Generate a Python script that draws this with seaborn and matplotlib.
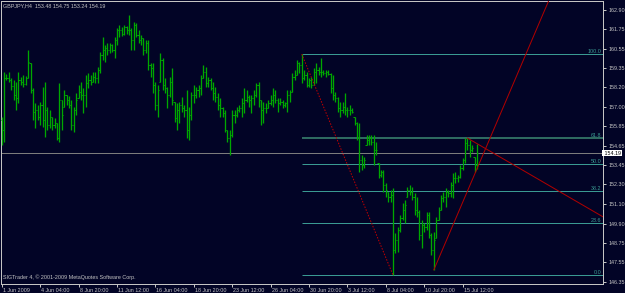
import numpy as np
import pandas as pd
import matplotlib
matplotlib.use("Agg")
import matplotlib.pyplot as plt
import matplotlib.transforms as mtransforms
import seaborn as sns

# ---------------- data (GBPJPY H4) ----------------
highs = [
    156.39, 159.13, 159.01, 159.13, 158.76, 158.64, 158.52, 159.13, 158.82, 158.94,
    158.88, 160.47, 159.68, 158.15, 157.24, 157.12, 157.30, 158.21, 158.52, 157.00,
    156.82, 156.39, 156.33, 156.02, 158.46, 157.42, 158.03, 157.73, 157.67, 157.42,
    157.00, 157.85, 158.34, 158.52, 158.15, 158.94, 159.07, 158.94, 159.13, 159.13,
    159.43, 160.34, 161.26, 160.77, 160.89, 160.89, 160.83, 161.26, 161.80, 161.99,
    161.87, 161.99, 161.93, 162.60, 161.80, 162.17, 162.11, 161.68, 161.38, 161.20,
    161.07, 161.07, 159.68, 159.68, 158.52, 158.34, 160.28, 159.98, 158.76, 158.21,
    158.82, 159.37, 157.30, 157.24, 157.30, 157.61, 157.12, 158.03, 157.00, 157.91,
    158.34, 158.21, 158.34, 158.94, 159.55, 159.43, 158.82, 158.76, 158.52, 158.21,
    157.85, 157.55, 157.00, 156.82, 155.60, 155.60, 156.82, 156.82, 157.00, 157.12,
    157.55, 158.15, 158.03, 157.73, 157.73, 158.03, 158.46, 158.52, 157.42, 157.30,
    157.24, 157.42, 157.73, 158.15, 158.03, 157.55, 157.55, 157.42, 157.30, 158.03,
    158.03, 159.07, 159.25, 159.86, 159.74, 160.22, 159.25, 159.13, 158.76, 158.82,
    159.37, 159.68, 159.43, 159.98, 159.25, 159.25, 159.25, 159.07, 158.94, 157.91,
    157.61, 157.30, 157.30, 157.85, 157.00, 157.12, 156.94, 156.39, 156.08, 156.02,
    154.08, 153.96, 155.29, 155.29, 155.29, 155.29, 154.87, 153.59, 153.16, 153.16,
    152.37, 151.83, 151.95, 152.07, 149.33, 149.70, 150.43, 151.16, 151.34, 152.13,
    152.25, 152.13, 151.77, 151.52, 150.73, 150.12, 149.94, 150.61, 150.61, 149.33,
    149.39, 150.31, 150.91, 151.64, 151.83, 152.07, 151.95, 152.43, 152.98, 153.04,
    152.86, 153.47, 153.89, 155.11, 155.11, 154.99, 154.69, 153.96, 154.75,
]
lows = [
    154.69, 154.87, 158.64, 158.52, 158.03, 157.42, 156.82, 157.24, 158.34, 158.21,
    158.34, 158.76, 157.85, 156.21, 155.72, 156.21, 155.90, 155.78, 155.17, 155.60,
    155.72, 155.60, 155.72, 154.99, 154.87, 155.60, 157.00, 157.12, 156.94, 155.60,
    155.48, 156.51, 157.55, 157.42, 156.63, 157.00, 158.15, 158.34, 158.52, 158.46,
    158.46, 159.07, 159.86, 159.74, 160.16, 160.28, 160.34, 159.98, 160.77, 161.26,
    161.32, 161.38, 161.44, 161.38, 160.47, 160.47, 161.26, 160.89, 160.77, 160.16,
    160.28, 159.25, 158.82, 157.85, 156.82, 156.39, 158.52, 158.03, 157.85, 156.94,
    157.61, 157.12, 156.08, 155.60, 156.02, 156.69, 156.39, 155.11, 154.99, 156.21,
    157.24, 157.55, 157.61, 157.73, 158.76, 158.21, 158.21, 158.03, 157.42, 157.30,
    156.82, 156.39, 156.39, 155.48, 154.87, 154.08, 155.17, 156.02, 156.39, 156.69,
    156.39, 156.63, 157.30, 157.00, 156.63, 157.12, 157.61, 157.00, 155.90, 156.02,
    156.63, 156.94, 157.12, 157.00, 157.24, 156.69, 157.12, 156.94, 157.00, 156.69,
    157.30, 157.91, 158.64, 158.94, 159.07, 158.46, 158.64, 158.21, 158.21, 158.15,
    158.34, 158.46, 158.94, 158.82, 158.94, 158.82, 158.94, 157.85, 157.42, 157.30,
    156.69, 156.39, 156.63, 156.51, 156.39, 156.51, 156.63, 155.90, 154.99, 153.04,
    153.16, 153.29, 154.69, 154.69, 154.69, 153.47, 154.08, 152.68, 152.74, 151.83,
    151.52, 151.22, 151.22, 146.78, 148.11, 148.17, 149.39, 150.12, 149.94, 151.52,
    151.64, 151.34, 150.43, 150.31, 148.91, 148.42, 149.39, 149.51, 149.03, 147.99,
    147.08, 149.03, 150.12, 150.73, 151.22, 150.91, 151.52, 151.52, 151.46, 152.37,
    152.43, 152.68, 153.16, 153.59, 154.38, 153.96, 154.26, 153.04, 153.24,
]
closes = [
    155.60, 158.76, 158.76, 158.64, 158.28, 157.73, 157.55, 158.64, 158.52, 158.40,
    158.76, 159.74, 158.03, 156.69, 156.82, 156.39, 157.12, 156.21, 156.82, 155.90,
    156.39, 155.90, 156.02, 155.11, 157.42, 156.51, 157.73, 157.42, 157.12, 155.90,
    156.82, 157.42, 157.91, 157.73, 157.73, 158.46, 158.64, 158.52, 158.82, 158.76,
    159.25, 160.16, 160.47, 160.59, 160.47, 160.77, 160.47, 161.07, 161.68, 161.68,
    161.44, 161.87, 161.68, 161.68, 161.07, 161.99, 161.38, 161.07, 161.20, 160.47,
    160.89, 159.55, 159.37, 158.34, 157.12, 158.03, 159.86, 158.34, 158.15, 157.73,
    158.52, 157.42, 156.33, 156.82, 157.12, 156.94, 156.82, 155.60, 156.51, 157.73,
    157.73, 158.03, 158.15, 158.76, 159.13, 158.46, 158.64, 158.15, 157.85, 157.61,
    157.12, 156.94, 156.63, 155.60, 155.11, 155.29, 156.51, 156.51, 156.82, 156.94,
    157.24, 157.42, 157.61, 157.42, 157.55, 157.73, 158.34, 157.42, 156.82, 156.94,
    156.94, 157.24, 157.42, 157.73, 157.42, 157.24, 157.30, 157.12, 157.24, 157.73,
    157.91, 158.82, 158.94, 159.68, 159.55, 158.76, 158.94, 158.34, 158.64, 158.34,
    159.13, 159.25, 159.13, 159.13, 159.07, 159.13, 159.01, 158.15, 157.73, 157.55,
    156.94, 156.82, 157.00, 156.82, 156.82, 156.82, 156.69, 156.02, 155.17, 153.77,
    153.47, 153.77, 154.99, 155.11, 154.87, 154.38, 154.38, 152.86, 153.04, 152.25,
    151.95, 151.52, 151.64, 148.30, 148.91, 149.51, 150.24, 150.73, 151.03, 151.95,
    151.83, 151.52, 150.73, 150.61, 149.21, 149.82, 149.70, 150.43, 149.21, 148.30,
    148.91, 150.12, 150.73, 151.46, 151.52, 151.83, 151.77, 152.25, 152.68, 152.68,
    152.74, 153.29, 153.77, 154.81, 154.69, 154.38, 154.50, 153.48, 154.19,
]
opens = [
    156.20, 155.60, 158.76, 158.76, 158.64, 158.28, 157.73, 157.55, 158.64, 158.52,
    158.40, 158.76, 159.68, 158.03, 156.69, 156.82, 156.39, 157.12, 156.21, 156.82,
    155.90, 156.39, 155.90, 156.02, 155.11, 157.42, 157.00, 157.73, 157.42, 157.12,
    155.90, 156.82, 157.55, 157.91, 157.73, 157.73, 158.46, 158.64, 158.52, 158.82,
    158.76, 159.25, 160.16, 160.47, 160.59, 160.47, 160.77, 160.47, 161.07, 161.68,
    161.68, 161.44, 161.87, 161.68, 161.68, 161.07, 161.99, 161.38, 161.07, 161.20,
    160.47, 160.89, 159.55, 159.37, 158.34, 157.12, 158.52, 159.86, 158.34, 158.15,
    157.73, 158.52, 157.30, 156.33, 156.82, 157.12, 156.94, 156.82, 155.60, 156.51,
    157.73, 157.73, 158.03, 158.15, 158.76, 159.13, 158.46, 158.64, 158.15, 157.85,
    157.61, 157.12, 156.94, 156.63, 155.60, 155.11, 155.29, 156.51, 156.51, 156.82,
    156.94, 157.24, 157.42, 157.61, 157.42, 157.55, 157.73, 158.34, 157.42, 156.82,
    156.94, 156.94, 157.24, 157.42, 157.73, 157.42, 157.24, 157.30, 157.12, 157.24,
    157.73, 157.91, 158.82, 158.94, 159.68, 159.55, 158.76, 158.94, 158.34, 158.64,
    158.34, 159.13, 159.25, 159.13, 159.13, 159.07, 159.13, 159.01, 158.15, 157.73,
    157.55, 156.94, 156.82, 157.00, 156.82, 156.82, 156.82, 156.39, 156.02, 155.17,
    153.77, 153.47, 154.69, 154.99, 155.11, 154.87, 154.38, 153.59, 152.86, 153.04,
    152.25, 151.83, 151.52, 151.64, 148.30, 148.91, 149.51, 150.24, 150.73, 151.52,
    151.95, 151.83, 151.52, 150.73, 150.61, 149.21, 149.82, 149.70, 150.43, 149.21,
    148.30, 149.03, 150.12, 150.73, 151.46, 151.52, 151.83, 151.77, 152.25, 152.68,
    152.68, 152.74, 153.29, 153.77, 154.81, 154.69, 154.38, 153.96, 153.48,
]

tick_bars = [0, 16, 32, 48, 64, 80, 96, 112, 128, 144, 160, 176, 192]
tick_labels = ["1 Jun 2009", "4 Jun 04:00", "8 Jun 20:00", "11 Jun 12:00",
               "16 Jun 04:00", "18 Jun 20:00", "23 Jun 12:00", "26 Jun 04:00",
               "30 Jun 20:00", "3 Jul 12:00", "8 Jul 04:00", "10 Jul 20:00",
               "15 Jul 12:00"]
price_ticks = [162.90, 161.75, 160.55, 159.35, 158.20, 157.00, 155.85, 154.65,
               153.45, 152.30, 151.10, 149.90, 148.75, 147.55, 146.35]

fib_start_bar = 125
fib_high = 160.22
fib_low = 146.78
fib_ratios = [1.0, 0.618, 0.5, 0.382, 0.236, 0.0]
fib_names = ["100.0", "61.8", "50.0", "38.2", "23.6", "0.0"]

dotted_line = [(125, 160.22), (163, 146.78)]
up_ray = [(180, 147.08), (198, 153.24)]
down_ray = [(194, 155.11), (233, 151.80)]

last_price = 154.19
title = "GBPJPY,H4  153.48 154.75 153.24 154.19"
footer = "SIGTrader 4, \u00a9 2001-2009 MetaQuotes Software Corp."

# ---------------- style ----------------
BG = "#020426"
TXT = "#c4c4c4"
BAR = "#00a800"
FIB = "#3a9a92"
FIB618 = "#2e6a60"
RED = "#b00000"

sns.set_theme(style="dark")
plt.rcParams["font.family"] = ["Liberation Sans", "DejaVu Sans"]

df = pd.DataFrame({"bar": np.arange(len(highs)), "open": opens, "high": highs,
                   "low": lows, "close": closes})

W, H = 625, 293
fig = plt.figure(figsize=(W / 100, H / 100), dpi=100)
fig.patch.set_facecolor(BG)
ax = fig.add_axes([1 / W, 9 / H, 602 / W, 283 / H])
ax.set_facecolor(BG)

PX = 0.72  # one pixel in points
FS = 3.9

# bid line
ax.axhline(last_price, color="#7c7c7c", lw=PX, zorder=1)

# fibonacci levels
rng = fib_high - fib_low
for r, name in zip(fib_ratios, fib_names):
    lvl = fib_low + r * rng
    if name == "61.8":
        ax.hlines(lvl, fib_start_bar, 251, color=FIB618, lw=2 * PX, zorder=2)
    else:
        ax.hlines(lvl, fib_start_bar, 251, color=FIB, lw=PX, zorder=2)
    ax.text(0.997, lvl, name, transform=mtransforms.blended_transform_factory(ax.transAxes, ax.transData),
            ha="right", va="bottom", color=FIB, fontsize=FS, zorder=5)

# bars
ax.vlines(df["bar"], df["low"], df["high"], color=BAR, lw=1.3 * PX, zorder=3)
ax.hlines(df["open"], df["bar"] - 0.45, df["bar"], color=BAR, lw=PX, zorder=3)
ax.hlines(df["close"], df["bar"], df["bar"] + 0.45, color=BAR, lw=PX, zorder=3)

# trend lines
(x0, y0), (x1, y1) = dotted_line
ax.plot([x0, x1], [y0, y1], color="#c00000", lw=PX, ls=(0, (1.5, 1.5)), zorder=4)
for (a, b) in (up_ray, down_ray):
    (xa, ya), (xb, yb) = a, b
    slope = (yb - ya) / (xb - xa)
    xe = 260
    ax.plot([xa, xe], [ya, ya + slope * (xe - xa)], color=RED, lw=PX, zorder=4)

# axes limits
ax.set_xlim(-0.29, 250.5)
ax.set_ylim(146.228, 163.448)

# ticks
ax.yaxis.tick_right()
ax.set_yticks(price_ticks)
ax.set_yticklabels([f"{p:.2f}" for p in price_ticks])
ax.set_xticks(tick_bars)
ax.set_xticklabels(tick_labels, ha="left")
ax.tick_params(axis="both", which="both", direction="out", length=2.2, width=PX,
               color=TXT, labelcolor=TXT, labelsize=FS)
ax.tick_params(axis="y", pad=1.5, right=True, left=False)
ax.tick_params(axis="x", pad=0.6, bottom=True)
for lab in ax.get_xticklabels():
    lab.set_transform(lab.get_transform() + mtransforms.ScaledTranslation(1 / 100, 0, fig.dpi_scale_trans))
ax.grid(False)
for s in ax.spines.values():
    s.set_color(TXT)
    s.set_linewidth(PX)
    s.set_visible(True)

# current price label
ax.text(1.0, last_price, f" {last_price:.2f}",
        transform=mtransforms.blended_transform_factory(ax.transAxes, ax.transData),
        ha="left", va="center", color="black", fontsize=FS,
        bbox=dict(facecolor="white", edgecolor="none", pad=0.4), zorder=6, clip_on=False)

fig.text(3 / W, 1 - 6 / H, title, ha="left", va="center", color=TXT, fontsize=FS)
fig.text(3 / W, 1 - 277 / H, footer, ha="left", va="center", color=TXT, fontsize=FS)

fig.savefig("out.png", dpi=100, facecolor=BG)
